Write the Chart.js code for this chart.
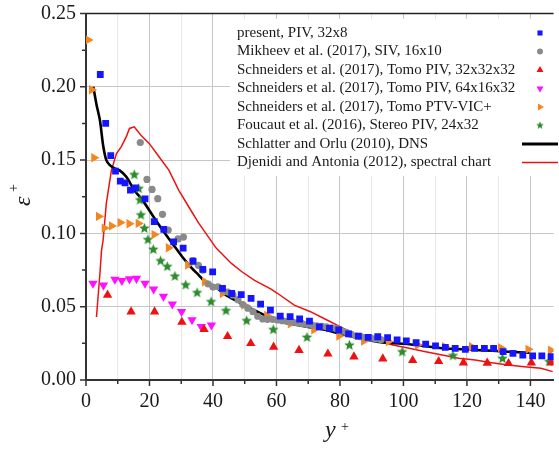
<!DOCTYPE html>
<html>
<head>
<meta charset="utf-8">
<script src="https://cdn.jsdelivr.net/npm/chart.js@4.4.0/dist/chart.umd.min.js"></script>
<style>
  html, body { margin: 0; padding: 0; background: #fff; }
  #wrap { width: 559px; height: 449px; }
</style>
</head>
<body>
<div id="wrap"><canvas id="chart" width="559" height="449"></canvas></div>
<script>
// series names (legend order)
const seriesNames = [
    'present, PIV, 32x8',
    'Mikheev et al. (2017), SIV, 16x10',
    'Schneiders et al. (2017), Tomo PIV, 32x32x32',
    'Schneiders et al. (2017), Tomo PIV, 64x16x32',
    'Schneiders et al. (2017), Tomo PTV-VIC+',
    'Foucaut et al. (2016), Stereo PIV, 24x32',
    'Schlatter and Orlu (2010), DNS',
    'Djenidi and Antonia (2012), spectral chart'
];

// present, PIV
const presentX = [4.5, 6.2, 7.8, 9.3, 10.8, 12.3, 14.0, 15.6, 18.6, 21.5, 24.5, 27.6, 30.6, 33.7, 36.8, 39.9, 43.0, 45.9, 48.9, 52.0, 55.0, 58.1, 61.2, 64.3, 67.3, 70.4, 73.5, 76.7, 79.6, 82.7, 85.8, 88.9, 91.9, 95.0, 98.0, 100.9, 104.0, 107.0, 110.1, 113.2, 116.3, 119.5, 122.4, 125.5, 128.4, 131.4, 134.5, 137.6, 140.7, 143.6, 146.5];
const presentY = [0.2084, 0.1750, 0.1530, 0.1425, 0.1357, 0.1345, 0.1295, 0.1310, 0.1236, 0.1080, 0.1027, 0.0942, 0.0900, 0.0810, 0.0755, 0.0738, 0.0625, 0.0590, 0.0582, 0.0557, 0.0518, 0.0477, 0.0436, 0.0432, 0.0416, 0.0402, 0.0362, 0.0352, 0.0341, 0.0314, 0.0300, 0.0291, 0.0295, 0.0289, 0.0273, 0.0266, 0.0254, 0.0245, 0.0233, 0.0223, 0.0216, 0.0209, 0.0216, 0.0216, 0.0216, 0.0193, 0.0182, 0.0170, 0.0164, 0.0164, 0.0159];

// Mikheev SIV
const mikheevX = [17.1, 19.2, 20.8, 22.6, 24.1, 25.9, 29.0, 30.7, 33.7, 35.4, 36.8, 38.5, 40.0, 41.6, 43.1, 44.7, 46.3, 47.9, 49.4, 51.0, 52.6, 54.1, 55.7, 57.2, 58.8, 60.3, 61.9, 63.4, 65.0, 66.5, 68.1, 69.6, 71.2, 72.7, 74.3, 75.8, 77.4, 78.9, 80.5, 82.0, 83.6, 85.1, 86.7, 88.2, 89.8, 91.3, 92.9];
const mikheevY = [0.162, 0.1368, 0.130, 0.1237, 0.113, 0.1023, 0.0962, 0.0975, 0.0815, 0.0782, 0.075, 0.0655, 0.0634, 0.0636, 0.0614, 0.0600, 0.0580, 0.0548, 0.0515, 0.0490, 0.0466, 0.0435, 0.0416, 0.0414, 0.0414, 0.0410, 0.0405, 0.0400, 0.0396, 0.0390, 0.0384, 0.0380, 0.0375, 0.0370, 0.0366, 0.0362, 0.0356, 0.0350, 0.0335, 0.0325, 0.0312, 0.0300, 0.0295, 0.0290, 0.0285, 0.0280, 0.0275];

// Schneiders Tomo PIV 32x32x32
const tomo32X = [6.8, 14.2, 21.6, 30.2, 37.2, 44.6, 51.9, 59.1, 67.1, 76.2, 84.4, 93.5, 102.9, 111.1, 118.9, 126.4, 133.1, 140.3, 146.6];
const tomo32Y = [0.058, 0.0466, 0.0466, 0.0395, 0.0345, 0.0298, 0.0250, 0.0225, 0.0203, 0.0178, 0.0159, 0.0145, 0.0134, 0.0127, 0.0118, 0.0116, 0.0114, 0.0118, 0.0118];

// Schneiders Tomo PIV 64x16x32
const tomo64X = [2.2, 5.5, 9.1, 11.3, 13.7, 15.9, 18.6, 21.3, 24.4, 27.2, 30.1, 33.4, 36.3, 39.5];
const tomo64Y = [0.0659, 0.0646, 0.0686, 0.0678, 0.0689, 0.0692, 0.0659, 0.0620, 0.0570, 0.0517, 0.0466, 0.0410, 0.0364, 0.0374];

// Schneiders Tomo PTV-VIC+
const vicX = [0.7, 1.8, 2.5, 4.0, 5.8, 8.1, 10.8, 13.6, 16.5, 21.5, 26.0, 32.1, 37.4, 43.0, 49.8, 57.0, 64.4, 71.8, 79.7, 87.5, 95.3, 104.5, 113.0, 121.5, 130.6, 139.3, 146.4];
const vicY = [0.232, 0.198, 0.1516, 0.1116, 0.1036, 0.1051, 0.1074, 0.1066, 0.1068, 0.0992, 0.0902, 0.0784, 0.0670, 0.0590, 0.0511, 0.0440, 0.0384, 0.0343, 0.0300, 0.0265, 0.0262, 0.0239, 0.0228, 0.0227, 0.0220, 0.0209, 0.0203];

// Foucaut Stereo PIV
const foucautX = [15.2, 16.6, 17.0, 17.3, 18.4, 19.5, 21.2, 23.5, 25.6, 28.0, 31.4, 35.0, 39.4, 44.1, 50.6, 59.0, 69.6, 83.0, 99.6, 115.6, 131.2, 145.9];
const foucautY = [0.140, 0.1305, 0.1227, 0.1125, 0.1034, 0.0957, 0.089, 0.0812, 0.0773, 0.0707, 0.0648, 0.0595, 0.0533, 0.0472, 0.0404, 0.0343, 0.0290, 0.0237, 0.0191, 0.0165, 0.0146, 0.0125];

// Schlatter & Orlu DNS
const dnsX = [2.3, 3.3, 4.4, 5.4, 6.4, 7.5, 9.0, 10.6, 12.7, 15.2, 17.8, 20.9, 24.1, 27.2, 30.3, 33.4, 35.5, 37.5, 40.7, 44.0, 47.9, 52.0, 56.2, 60.4, 66.6, 70.0, 75.9, 80.0, 86.0, 91.5, 96.0, 101.8, 107.0, 112.2, 117.0, 122.6, 128.0, 133.0, 139.7];
const dnsY = [0.200, 0.188, 0.177, 0.160, 0.150, 0.1466, 0.1443, 0.1430, 0.1386, 0.1295, 0.1227, 0.1125, 0.1023, 0.0932, 0.0841, 0.0761, 0.0716, 0.0670, 0.0636, 0.0580, 0.0534, 0.0487, 0.0443, 0.0400, 0.0375, 0.0362, 0.0340, 0.0315, 0.0285, 0.0262, 0.0252, 0.0244, 0.0230, 0.0217, 0.0211, 0.0205, 0.0199, 0.0193, 0.0186];

// Djenidi & Antonia spectral chart
const spectralX = [3.3, 4.4, 4.9, 5.4, 6.4, 8.0, 9.6, 11.1, 12.7, 13.7, 15.2, 17.3, 19.9, 23.0, 26.1, 29.2, 32.4, 35.5, 38.1, 41.0, 45.8, 49.0, 53.1, 58.3, 60.4, 65.6, 70.7, 75.9, 81.1, 86.3, 91.5, 96.7, 101.8, 107.0, 112.2, 117.4, 122.6, 127.8, 133.0, 138.1, 143.3, 147.0];
const spectralY = [0.043, 0.073, 0.0886, 0.0955, 0.1205, 0.143, 0.1545, 0.159, 0.166, 0.1716, 0.1727, 0.167, 0.1614, 0.1523, 0.1432, 0.1295, 0.118, 0.107, 0.099, 0.090, 0.0795, 0.074, 0.068, 0.062, 0.059, 0.0511, 0.0466, 0.0409, 0.0352, 0.0295, 0.0273, 0.0239, 0.0216, 0.0193, 0.017, 0.0148, 0.0136, 0.0118, 0.0102, 0.0091, 0.008, 0.0057];

// axis ticks
const xTickLabels = [0, 20, 40, 60, 80, 100, 120, 140];
const yTickLabels = ['0.00', '0.05', '0.10', '0.15', '0.20', '0.25'];

const SERIF = '"Liberation Serif", "Times New Roman", serif';
const pts = (xs, ys) => xs.map((x, i) => ({ x: x, y: ys[i] }));

// filled five-point star marker
function makeStar(color, r) {
    const c = document.createElement('canvas');
    const s = Math.ceil(r * 2 + 2);
    c.width = s; c.height = s;
    const g = c.getContext('2d');
    g.fillStyle = color;
    g.beginPath();
    for (let i = 0; i < 10; i++) {
        const rr = i % 2 === 0 ? r : r * 0.45;
        const a = -Math.PI / 2 + i * Math.PI / 5;
        const px = s / 2 + rr * Math.cos(a);
        const py = s / 2 + rr * Math.sin(a);
        if (i === 0) g.moveTo(px, py); else g.lineTo(px, py);
    }
    g.closePath();
    g.fill();
    return c;
}

const starMarker = makeStar('#2e8b2e', 5.5);
const starLegend = makeStar('#2e8b2e', 4);

const colors = ['#1515ff', '#8a8a8a', '#ee1111', '#ff10ff', '#f5861f', '#2e8b2e', '#000000', '#ee1111'];

const datasets = [
    { label: seriesNames[0], data: pts(presentX, presentY), pointStyle: 'rect', pointRadius: 4.8, backgroundColor: colors[0], borderColor: colors[0], borderWidth: 0 },
    { label: seriesNames[1], data: pts(mikheevX, mikheevY), pointStyle: 'circle', pointRadius: 3.6, backgroundColor: colors[1], borderColor: colors[1], borderWidth: 0 },
    { label: seriesNames[2], data: pts(tomo32X, tomo32Y), pointStyle: 'triangle', pointRadius: 5.4, backgroundColor: colors[2], borderColor: colors[2], borderWidth: 0 },
    { label: seriesNames[3], data: pts(tomo64X, tomo64Y), pointStyle: 'triangle', rotation: 180, pointRadius: 5.4, backgroundColor: colors[3], borderColor: colors[3], borderWidth: 0 },
    { label: seriesNames[4], data: pts(vicX, vicY), pointStyle: 'triangle', rotation: 90, pointRadius: 5.4, backgroundColor: colors[4], borderColor: colors[4], borderWidth: 0 },
    { label: seriesNames[5], data: pts(foucautX, foucautY), pointStyle: starMarker, backgroundColor: colors[5], borderColor: colors[5], borderWidth: 0 },
    { label: seriesNames[6], data: pts(dnsX, dnsY), showLine: true, pointRadius: 0, borderColor: colors[6], borderWidth: 2.6, tension: 0.3, order: 1 },
    { label: seriesNames[7], data: pts(spectralX, spectralY), showLine: true, pointRadius: 0, borderColor: colors[7], borderWidth: 1.5, tension: 0, order: 2 }
];

// legend: text on the left, symbol on the right, white box over the grid
const legendPlugin = {
    id: 'sideLegend',
    afterDatasetsDraw(chart) {
        const ctx = chart.ctx;
        ctx.save();
        ctx.fillStyle = '#ffffff';
        ctx.fillRect(230, 19, 335, 157);
        ctx.font = '15px ' + SERIF;
        ctx.textBaseline = 'middle';
        ctx.textAlign = 'left';
        const markerStyles = [
            { pointStyle: 'rect', radius: 3.6, rotation: 0 },
            { pointStyle: 'circle', radius: 3, rotation: 0 },
            { pointStyle: 'triangle', radius: 4, rotation: 0 },
            { pointStyle: 'triangle', radius: 4, rotation: 180 },
            { pointStyle: 'triangle', radius: 4, rotation: 90 },
            { pointStyle: starLegend, radius: 4, rotation: 0 }
        ];
        seriesNames.forEach((name, i) => {
            const y = 33 + i * 18.5;
            ctx.fillStyle = '#1a1a1a';
            ctx.fillText(name, 237, y);
            if (i < 6) {
                ctx.fillStyle = colors[i];
                ctx.strokeStyle = colors[i];
                ctx.lineWidth = 0;
                Chart.helpers.drawPoint(ctx, { pointStyle: markerStyles[i].pointStyle, radius: markerStyles[i].radius, rotation: markerStyles[i].rotation, borderWidth: 0 }, 540, y);
            } else {
                ctx.strokeStyle = colors[i];
                ctx.lineWidth = i === 6 ? 3 : 1.5;
                ctx.beginPath();
                ctx.moveTo(522, y);
                ctx.lineTo(558, y);
                ctx.stroke();
            }
        });
        ctx.restore();
    }
};

// axis tick marks, top border and axis titles
const framePlugin = {
    id: 'frame',
    afterDraw(chart) {
        const ctx = chart.ctx;
        const xs = chart.scales.x, ys = chart.scales.y;
        const a = chart.chartArea;
        ctx.save();
        ctx.strokeStyle = '#333';
        ctx.lineWidth = 1.5;
        ctx.beginPath();
        for (let v = 0; v <= 140; v += 10) {
            const px = xs.getPixelForValue(v);
            const len = v % 20 === 0 ? 6 : 4;
            ctx.moveTo(px, a.bottom);
            ctx.lineTo(px, a.bottom + len);
        }
        for (let k = 0; k <= 10; k++) {
            const py = ys.getPixelForValue(k * 0.025);
            const len = k % 2 === 0 ? 6 : 4;
            ctx.moveTo(a.left, py);
            ctx.lineTo(a.left - len, py);
        }
        ctx.stroke();
        // top border
        ctx.strokeStyle = '#222';
        ctx.lineWidth = 1.5;
        ctx.beginPath();
        ctx.moveTo(a.left, a.top);
        ctx.lineTo(a.right, a.top);
        ctx.stroke();

        ctx.fillStyle = '#1a1a1a';
        ctx.textAlign = 'left';
        ctx.textBaseline = 'alphabetic';
        // x title: y+
        ctx.font = 'italic 24px ' + SERIF;
        ctx.fillText('y', 325, 437);
        ctx.font = '14px ' + SERIF;
        ctx.fillText('+', 341, 431);
        // y title: epsilon+
        ctx.translate(30, 206);
        ctx.rotate(-Math.PI / 2);
        ctx.font = 'italic 24px ' + SERIF;
        ctx.fillText('\u03b5', 0, 0);
        ctx.font = '14px ' + SERIF;
        ctx.fillText('+', 14, -12);
        ctx.restore();
    }
};

new Chart(document.getElementById('chart'), {
    type: 'scatter',
    data: { datasets: datasets },
    options: {
        responsive: false,
        animation: false,
        devicePixelRatio: 1,
        layout: { padding: { top: 13.5, right: 0, left: 0, bottom: 0 } },
        plugins: { legend: { display: false }, tooltip: { enabled: false } },
        scales: {
            x: {
                type: 'linear',
                min: 0,
                max: 147.3,
                afterFit: (scale) => { scale.height = 69; scale.paddingLeft = 0; scale.paddingRight = 0; },
                border: { color: '#333', width: 2 },
                grid: {
                    drawTicks: false,
                    color: (c) => (c.tick && c.tick.value % 20 === 0) ? '#c6c6c6' : '#e8e8e8',
                    lineWidth: 1
                },
                ticks: {
                    stepSize: 10,
                    includeBounds: false,
                    autoSkip: false,
                    maxRotation: 0,
                    padding: 10,
                    color: '#1a1a1a',
                    font: { family: SERIF, size: 20 },
                    callback: (v) => xTickLabels.includes(v) ? String(v) : ''
                }
            },
            y: {
                type: 'linear',
                min: 0,
                max: 0.25,
                afterFit: (scale) => { scale.width = 86; scale.paddingTop = 0; scale.paddingBottom = 0; },
                border: { color: '#333', width: 2 },
                grid: {
                    drawTicks: false,
                    color: (c) => {
                        const k = Math.round(c.tick.value * 1000);
                        if (k === 0 || k === 250) return 'rgba(0,0,0,0)';
                        return k % 50 === 0 ? '#c6c6c6' : 'rgba(0,0,0,0)';
                    },
                    lineWidth: 1
                },
                ticks: {
                    stepSize: 0.025,
                    includeBounds: false,
                    autoSkip: false,
                    padding: 10,
                    color: '#1a1a1a',
                    font: { family: SERIF, size: 20 },
                    callback: (v) => {
                        const k = Math.round(v * 1000);
                        return k % 50 === 0 ? yTickLabels[k / 50] : '';
                    }
                }
            }
        }
    },
    plugins: [legendPlugin, framePlugin]
});
</script>
</body>
</html>
